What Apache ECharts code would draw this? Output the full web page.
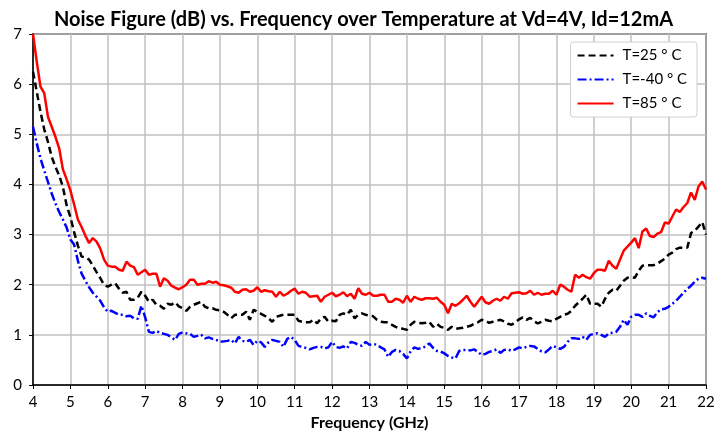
<!DOCTYPE html>
<html>
<head>
<meta charset="utf-8">
<script src="https://cdn.jsdelivr.net/npm/echarts@6/dist/echarts.min.js"></script>
<style>
  html, body { margin: 0; padding: 0; background: #fff; }
  #chart { width: 727px; height: 435px; }
</style>
</head>
<body>
<div id="chart"></div>
<script>
// frequency sweep 4..22 GHz, 0.1 GHz step
var fStart = 4, fStep = 0.1;

var nf25 = [
  6.25, 5.85, 5.45, 5.1, 4.85, 4.55, 4.35, 4.18, 3.95, 3.58,
  3.35, 3.05, 2.78, 2.56, 2.55, 2.5, 2.38, 2.25, 2.13, 2.0,
  1.96, 2.0, 2.03, 1.92, 1.84, 1.86, 1.7, 1.7, 1.74, 1.86,
  1.78, 1.66, 1.7, 1.6, 1.58, 1.52, 1.62, 1.6, 1.65, 1.57,
  1.53, 1.48, 1.56, 1.6, 1.63, 1.66, 1.56, 1.53, 1.53, 1.5,
  1.49, 1.46, 1.4, 1.33, 1.4, 1.4, 1.4, 1.46, 1.3, 1.5,
  1.46, 1.42, 1.38, 1.33, 1.26, 1.36, 1.38, 1.4, 1.4, 1.4,
  1.4, 1.28, 1.26, 1.25, 1.25, 1.3, 1.23, 1.33, 1.36, 1.26,
  1.28, 1.27, 1.4, 1.43, 1.4, 1.5, 1.33, 1.4, 1.43, 1.4,
  1.38, 1.37, 1.3, 1.26, 1.25, 1.25, 1.2, 1.16, 1.13, 1.12,
  1.1, 1.2, 1.26, 1.24, 1.23, 1.24, 1.26, 1.16, 1.22, 1.16,
  1.14, 1.1, 1.16, 1.12, 1.13, 1.14, 1.16, 1.18, 1.22, 1.25,
  1.3, 1.28, 1.24, 1.26, 1.28, 1.3, 1.27, 1.22, 1.2, 1.25,
  1.31, 1.35, 1.3, 1.34, 1.27, 1.23, 1.26, 1.3, 1.28, 1.27,
  1.32, 1.36, 1.4, 1.42, 1.48, 1.58, 1.65, 1.72, 1.8, 1.62,
  1.62, 1.62, 1.56, 1.72, 1.84, 1.9, 1.88, 1.98, 2.08, 2.14,
  2.15, 2.14, 2.28, 2.38, 2.39, 2.39, 2.39, 2.42, 2.47, 2.52,
  2.6, 2.64, 2.71, 2.74, 2.73, 2.74, 3.03, 3.08, 3.16, 3.25,
  3.0
];

var nfM40 = [
  5.15, 4.82, 4.52, 4.28, 4.05, 3.82, 3.62, 3.45, 3.3, 3.14,
  2.9, 2.8, 2.48, 2.22, 2.08, 1.95, 1.84, 1.76, 1.68, 1.55,
  1.46, 1.48, 1.44, 1.4, 1.4, 1.37, 1.38, 1.33, 1.32, 1.58,
  1.35, 1.06, 1.04, 1.08, 1.04, 1.02, 1.0, 0.95, 0.9, 1.02,
  1.05, 1.03, 1.02, 0.96, 0.98, 1.0, 0.93, 0.95, 0.92, 0.9,
  0.86, 0.87, 0.88, 0.9, 0.83, 0.96, 0.88, 0.86, 0.9, 0.8,
  0.88, 0.85, 0.76, 0.85, 0.9, 0.88, 0.86, 0.76, 0.92, 0.96,
  0.9, 0.78, 0.76, 0.74, 0.71, 0.74, 0.76, 0.76, 0.73, 0.75,
  0.86, 0.76, 0.74, 0.77, 0.73, 0.86, 0.84, 0.8, 0.78, 0.86,
  0.8, 0.82, 0.8, 0.75, 0.71, 0.56, 0.66, 0.7, 0.68, 0.62,
  0.53, 0.67, 0.75, 0.72, 0.74, 0.77, 0.83, 0.74, 0.68, 0.67,
  0.63, 0.58, 0.55, 0.53, 0.68, 0.7, 0.7, 0.69, 0.71, 0.66,
  0.6, 0.62, 0.66, 0.68, 0.71, 0.64, 0.7, 0.71, 0.68, 0.71,
  0.75, 0.73, 0.76, 0.78, 0.77, 0.72, 0.67, 0.65, 0.71, 0.78,
  0.75, 0.72, 0.76, 0.86, 0.93, 0.93, 0.92, 0.96, 0.9, 1.0,
  1.02, 1.03, 1.0, 0.96, 1.03, 1.04, 1.06, 1.16, 1.3, 1.2,
  1.36, 1.4, 1.4, 1.36, 1.43, 1.38, 1.35, 1.45, 1.51, 1.52,
  1.56, 1.62, 1.68, 1.76, 1.84, 1.92, 1.98, 2.06, 2.12, 2.14,
  2.12
];

var nf85 = [
  7.0, 6.45, 5.95, 5.82, 5.35, 5.15, 4.95, 4.72, 4.3, 4.1,
  3.88, 3.6, 3.3, 3.15, 2.98, 2.83, 2.93, 2.86, 2.72, 2.5,
  2.38, 2.36, 2.36, 2.3, 2.28, 2.46, 2.38, 2.35, 2.2, 2.25,
  2.3, 2.2, 2.22, 2.22, 1.96, 2.13, 2.08, 1.98, 1.94, 1.91,
  1.95, 2.0, 2.1, 2.1, 2.0, 2.02, 2.02, 2.07, 2.04, 2.06,
  2.0, 1.99, 1.97, 1.94, 1.86, 1.84, 1.9, 1.91, 1.86, 1.88,
  1.95, 1.86, 1.89, 1.87, 1.86, 1.76, 1.86, 1.78, 1.82, 1.88,
  1.92, 1.82, 1.86, 1.84, 1.76, 1.77, 1.78, 1.66, 1.76, 1.8,
  1.84, 1.77, 1.8, 1.85, 1.77, 1.82, 1.72, 1.93, 1.82, 1.8,
  1.84, 1.78, 1.78, 1.8, 1.8, 1.66, 1.66, 1.72, 1.7, 1.64,
  1.78, 1.66, 1.76, 1.72, 1.7, 1.73, 1.73, 1.72, 1.74, 1.66,
  1.6, 1.43, 1.62, 1.58, 1.63, 1.7, 1.78, 1.66, 1.56, 1.66,
  1.76, 1.65, 1.62, 1.68, 1.72, 1.68, 1.76, 1.72, 1.83, 1.84,
  1.85, 1.82, 1.83, 1.88, 1.8, 1.84, 1.8, 1.82, 1.82, 1.88,
  1.8, 2.0, 1.96, 1.9, 1.86, 2.2, 2.14, 2.2, 2.15, 2.12,
  2.23, 2.3, 2.3, 2.28, 2.48, 2.38, 2.32, 2.5, 2.68, 2.76,
  2.84, 2.93, 2.73, 3.06, 3.12, 2.97, 2.95, 3.02, 3.05, 3.24,
  3.22, 3.36, 3.5, 3.45, 3.55, 3.63, 3.84, 3.69, 3.96, 4.06,
  3.9
];

var names = ['T=25 ° C', 'T=-40 ° C', 'T=85 ° C'];

function pairs(vals) {
    return vals.map(function (v, i) {
        return [+(fStart + i * fStep).toFixed(2), v];
    });
}

var font = 'Lato, "Open Sans", sans-serif';

var myChart = echarts.init(document.getElementById('chart'));
myChart.setOption({
    animation: false,
    title: {
        text: 'Noise Figure (dB) vs. Frequency over Temperature at Vd=4V, Id=12mA',
        left: 'center',
        top: 5,
        textStyle: {
            fontFamily: font,
            fontWeight: 'bold',
            fontSize: 20,
            color: '#000'
        }
    },
    grid: {
        left: 33,
        right: 21,
        top: 34,
        bottom: 50,
        outerBoundsMode: 'none',
        containLabel: false,
        show: true,
        borderColor: '#000',
        borderWidth: 1.5
    },
    legend: {
        orient: 'vertical',
        right: 30,
        top: 42,
        itemWidth: 36,
        itemHeight: 10,
        itemGap: 9,
        padding: [6, 10, 6, 6],
        backgroundColor: '#fff',
        borderColor: '#d0d0d0',
        borderWidth: 1,
        borderRadius: 3,
        itemStyle: { opacity: 0 },
        textStyle: {
            fontFamily: font,
            fontSize: 15,
            color: '#000',
            padding: [0, 0, 0, 4]
        },
        data: names
    },
    // X轴
    xAxis: {
        type: 'value',
        min: 4,
        max: 22,
        interval: 1,
        name: 'Frequency (GHz)',
        nameLocation: 'middle',
        nameGap: 29,
        nameTextStyle: {
            fontFamily: font,
            fontWeight: 'bold',
            fontSize: 16,
            color: '#000'
        },
        axisLine: { lineStyle: { color: '#000', width: 1.5 } },
        axisTick: { inside: false, length: 4, lineStyle: { color: '#000' } },
        axisLabel: { fontFamily: font, fontSize: 15, color: '#000', margin: 10 },
        splitLine: { show: true, lineStyle: { color: '#c0c0c0', width: 1.5 } }
    },
    // Y轴
    yAxis: {
        type: 'value',
        min: 0,
        max: 7,
        interval: 1,
        axisLine: { show: true, lineStyle: { color: '#000', width: 1.5 } },
        axisTick: { show: true, inside: false, length: 4, lineStyle: { color: '#000' } },
        axisLabel: { fontFamily: font, fontSize: 15, color: '#000', margin: 11 },
        splitLine: { show: true, lineStyle: { color: '#c0c0c0', width: 1.5 } }
    },
    series: [{
        name: names[0],
        type: 'line',
        symbol: 'none',
        z: 3,
        lineStyle: { color: '#000', width: 2.5, type: [7, 4] },
        itemStyle: { color: '#000' },
        data: pairs(nf25)
    }, {
        name: names[1],
        type: 'line',
        symbol: 'none',
        z: 2,
        lineStyle: { color: '#0000ff', width: 2.5, type: [9, 3, 2, 3] },
        itemStyle: { color: '#0000ff' },
        data: pairs(nfM40)
    }, {
        name: names[2],
        type: 'line',
        symbol: 'none',
        z: 4,
        lineStyle: { color: '#ff0000', width: 2.5 },
        itemStyle: { color: '#ff0000' },
        data: pairs(nf85)
    }]
});
</script>
</body>
</html>
